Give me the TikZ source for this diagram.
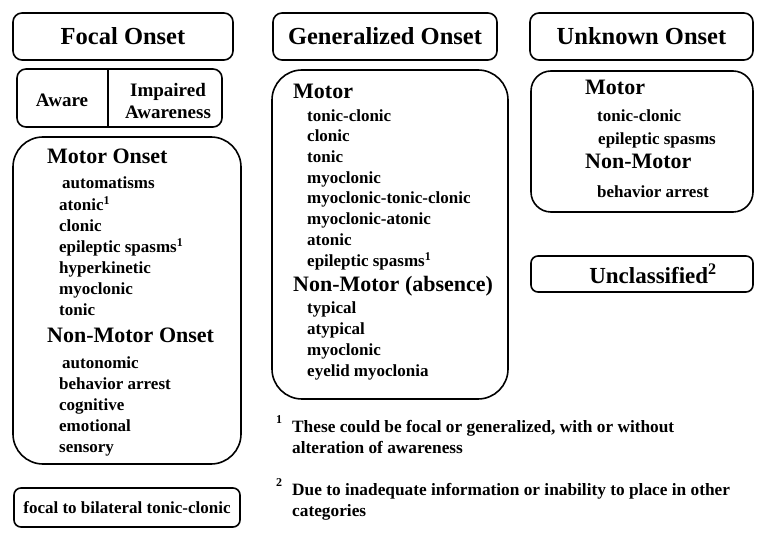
\documentclass[tikz,border=0pt]{standalone}
\usepackage{fontspec}
\setmainfont{Liberation Serif}
\begin{document}
\begin{tikzpicture}[x=1pt,y=-1pt,
  frame/.style={draw, line width=1.6pt, rounded corners=#1, inner sep=0pt},
  ttl/.style={font=\fontsize{24.5}{28}\selectfont\bfseries},
  head/.style={anchor=mid west, inner sep=0pt, font=\fontsize{22}{26}\selectfont\bfseries},
  item/.style={anchor=mid west, inner sep=0pt, font=\fontsize{17}{20}\selectfont\bfseries},
  note/.style={anchor=mid west, inner sep=0pt, font=\fontsize{17.3}{21}\selectfont\bfseries},
  sup/.style={anchor=mid west, inner sep=0pt, font=\fontsize{12}{14}\selectfont\bfseries}]
\useasboundingbox (0,0) rectangle (766,534);
% ---------- Focal ----------
\node[frame=9pt, ttl, minimum width=220, minimum height=47] (focal) at (123,36.5) {Focal Onset};
\node[frame=9pt, minimum width=205, minimum height=58] (aware) at (119.5,98) {};
\coordinate (dv) at (108,0);
\draw[line width=1.6pt] (aware.north -| dv) -- (aware.south -| dv);
\node[inner sep=0pt, font=\fontsize{19}{22}\selectfont\bfseries] (awaretxt) at (62,100) {Aware};
\node[inner sep=0pt, align=center, font=\fontsize{19}{22}\selectfont\bfseries] (impaired) at (168,101) {Impaired\\Awareness};
\node[frame=30pt, minimum width=228, minimum height=327] (focalbox) at (127,300.5) {};
\node[head] (fmotor) at (47,161) {Motor Onset};
\node[item] (f1) at (62,186) {automatisms};
\node[item] (f2) at (59,208) {atonic\textsuperscript{1}};
\node[item] (f3) at (59,229) {clonic};
\node[item] (f4) at (59,250) {epileptic spasms\textsuperscript{1}};
\node[item] (f5) at (59,271) {hyperkinetic};
\node[item] (f6) at (59,292) {myoclonic};
\node[item] (f7) at (59,313) {tonic};
\node[head] (fnon) at (47,340) {Non-Motor Onset};
\node[item] (f8) at (62,366) {autonomic};
\node[item] (f9) at (59,387) {behavior arrest};
\node[item] (f10) at (59,408) {cognitive};
\node[item] (f11) at (59,429) {emotional};
\node[item] (f12) at (59,450) {sensory};
\node[frame=7pt, minimum width=226, minimum height=39, font=\fontsize{17}{20}\selectfont\bfseries] (bilat) at (127,507.5) {focal to bilateral tonic-clonic};
% ---------- Generalized ----------
\node[frame=9pt, ttl, minimum width=224, minimum height=47] (gen) at (385,36.5) {Generalized Onset};
\node[frame=30pt, minimum width=236, minimum height=329] (genbox) at (390,234.5) {};
\node[head] (gmotor) at (293,96) {Motor};
\node[item] (g1) at (307,119) {tonic-clonic};
\node[item] (g2) at (307,139) {clonic};
\node[item] (g3) at (307,160) {tonic};
\node[item] (g4) at (307,181) {myoclonic};
\node[item] (g5) at (307,201) {myoclonic-tonic-clonic};
\node[item] (g6) at (307,222) {myoclonic-atonic};
\node[item] (g7) at (307,243) {atonic};
\node[item] (g8) at (307,264) {epileptic spasms\textsuperscript{1}};
\node[head] (gnon) at (293,289) {Non-Motor (absence)};
\node[item] (g9) at (307,311) {typical};
\node[item] (g10) at (307,332) {atypical};
\node[item] (g11) at (307,353) {myoclonic};
\node[item] (g12) at (307,374) {eyelid myoclonia};
% ---------- Unknown ----------
\node[frame=9pt, ttl, minimum width=223, minimum height=47] (unk) at (641.5,36.5) {Unknown Onset};
\node[frame=20pt, minimum width=222, minimum height=141] (unkbox) at (642,141.5) {};
\node[head] (umotor) at (585,92) {Motor};
\node[item] (u1) at (597,119) {tonic-clonic};
\node[item] (u2) at (598,142) {epileptic spasms};
\node[head] (unon) at (585,166) {Non-Motor};
\node[item] (u3) at (597,195) {behavior arrest};
\node[frame=7pt, minimum width=222, minimum height=36] (uncl) at (642,274) {};
\node[inner sep=0pt, font=\fontsize{23}{26}\selectfont\bfseries] (uncltxt) at (653,274) {Unclassified\textsuperscript{2}};
% ---------- Footnotes ----------
\node[sup] (n1) at (276,421) {1};
\node[note] (t1a) at (292,430) {These could be focal or generalized, with or without};
\node[note] (t1b) at (292,451) {alteration of awareness};
\node[sup] (n2) at (276,484) {2};
\node[note] (t2a) at (292,493) {Due to inadequate information or inability to place in other};
\node[note] (t2b) at (292,514) {categories};
\end{tikzpicture}
\end{document}
